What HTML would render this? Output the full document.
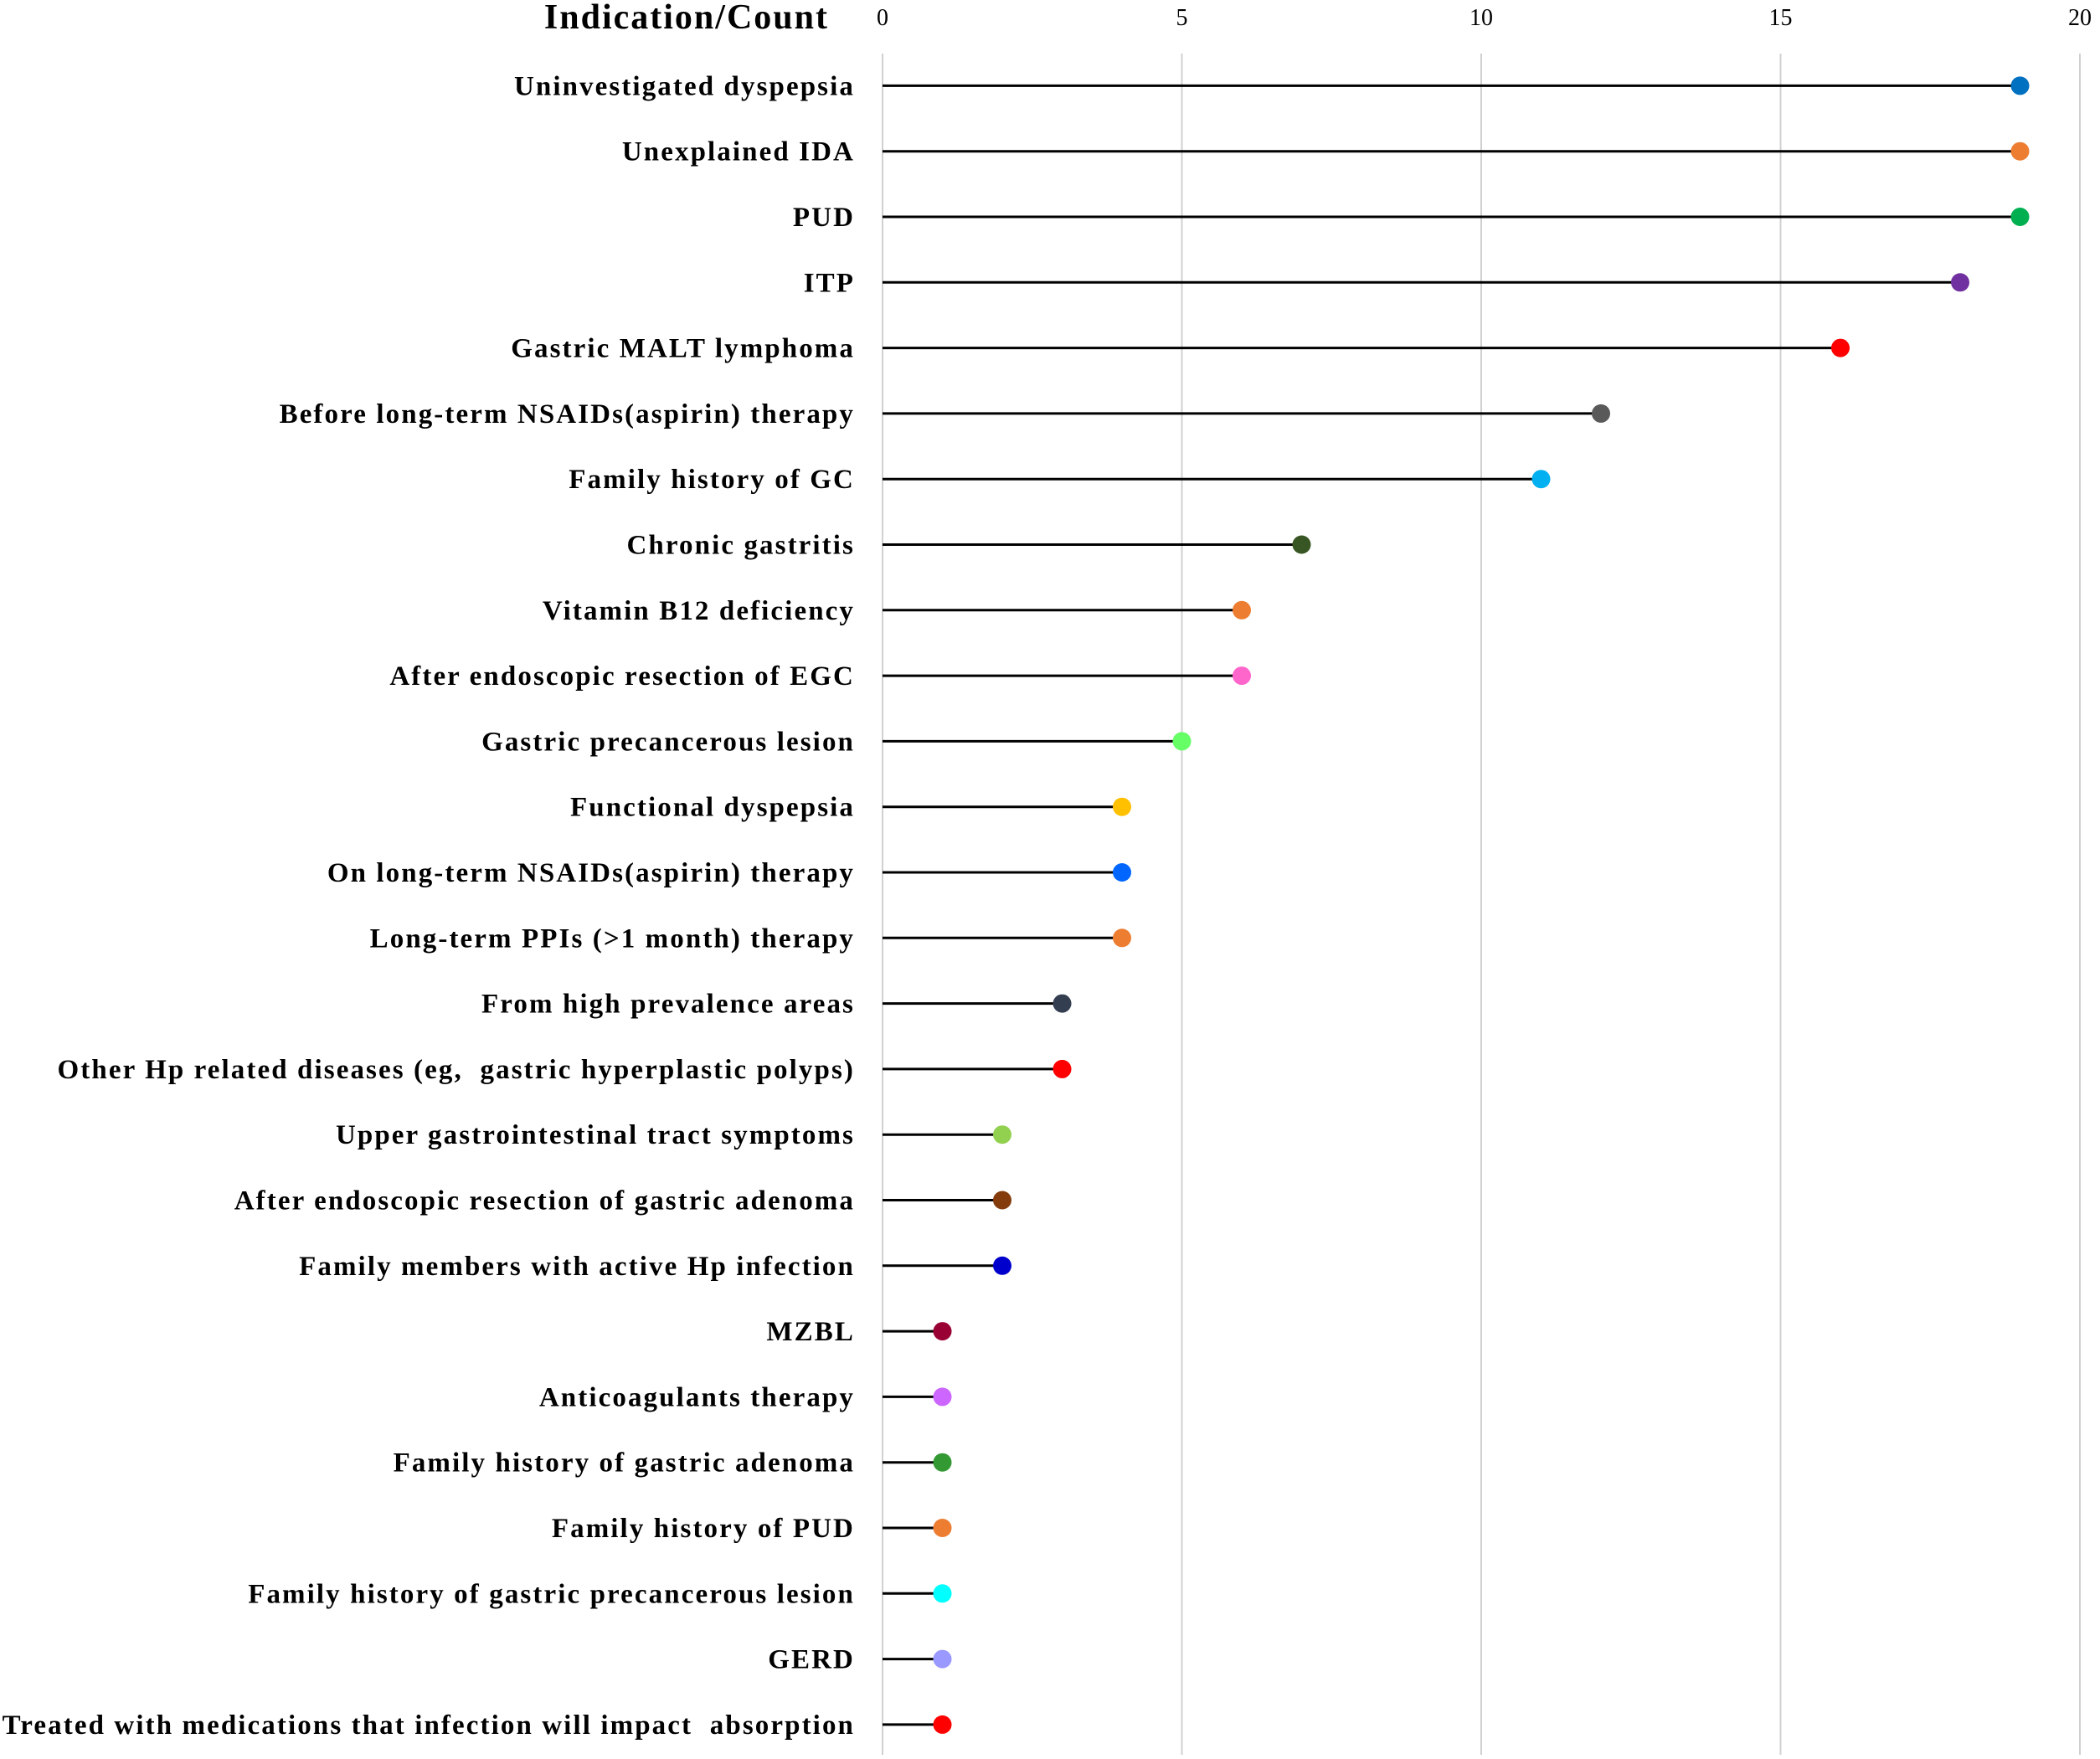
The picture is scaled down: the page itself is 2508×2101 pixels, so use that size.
<!DOCTYPE html>
<html><head><meta charset="utf-8"><style>
html,body{margin:0;padding:0;background:#fff;}
svg{display:block;}
text{font-family:"Liberation Serif",serif;white-space:pre;}
</style></head><body>
<svg id="chart" width="2508" height="2101" viewBox="0 0 2508 2101" xmlns="http://www.w3.org/2000/svg">
<text x="990" y="34" text-anchor="end" font-size="42" font-weight="bold" letter-spacing="2">Indication/Count</text>
<g id="grid"></g><g id="ticks"></g><g id="rows"></g>
</svg>
<script>
const categories=["Uninvestigated dyspepsia","Unexplained IDA","PUD","ITP","Gastric MALT lymphoma","Before long-term NSAIDs(aspirin) therapy","Family history of GC","Chronic gastritis","Vitamin B12 deficiency","After endoscopic resection of EGC","Gastric precancerous lesion","Functional dyspepsia","On long-term NSAIDs(aspirin) therapy","Long-term PPIs (>1 month) therapy","From high prevalence areas","Other Hp related diseases (eg,  gastric hyperplastic polyps)","Upper gastrointestinal tract symptoms","After endoscopic resection of gastric adenoma","Family members with active Hp infection","MZBL","Anticoagulants therapy","Family history of gastric adenoma","Family history of PUD","Family history of gastric precancerous lesion","GERD","Treated with medications that infection will impact  absorption"];
const counts=[19,19,19,18,16,12,11,7,6,6,5,4,4,4,3,3,2,2,2,1,1,1,1,1,1,1];
const dotColors=["#0070c0","#ed7d31","#00b050","#7030a0","#ff0000","#595959","#00b0f0","#375623","#ed7d31","#ff66cc","#66ff66","#ffc000","#0066ff","#ed7d31","#333f50","#ff0000","#92d050","#843c0c","#0000cc","#990033","#cc66ff","#339933","#ed7d31","#00ffff","#9999ff","#ff0000"];
const tickValues=[0,5,10,15,20];
const NS="http://www.w3.org/2000/svg";
const x0=1054,x1=2484,xMax=20,yFirst=102.4,yStep=78.3;
function xs(v){return x0+(x1-x0)*v/xMax;}
function ys(i){return yFirst+i*yStep;}
function mk(tag,attrs,parent){const e=document.createElementNS(NS,tag);for(const k in attrs)e.setAttribute(k,attrs[k]);parent.appendChild(e);return e;}
const grid=document.getElementById('grid'),ticks=document.getElementById('ticks'),rows=document.getElementById('rows');
tickValues.forEach(t=>{
  const l=mk('line',{x1:xs(t),x2:xs(t),y1:64,y2:2096,stroke:'#d0d0d0','stroke-width':2},grid);
  
  
  const tx=mk('text',{x:xs(t),y:30,'text-anchor':'middle','font-size':28},ticks);
  tx.textContent=t;
  
  
});
categories.forEach((c,i)=>{
  const y=ys(i);
  const lab=mk('text',{x:1021,y:y+11,'text-anchor':'end','font-size':33,'font-weight':'bold','letter-spacing':'2.1'},rows);
  lab.textContent=c;
  
  
  const ln=mk('line',{x1:xs(0),x2:xs(counts[i]),y1:y,y2:y,stroke:'#000','stroke-width':3},rows);
  
  
  const d=mk('circle',{cx:xs(counts[i]),cy:y,r:11,fill:dotColors[i]},rows);
  
  
});
</script>
</body></html>
